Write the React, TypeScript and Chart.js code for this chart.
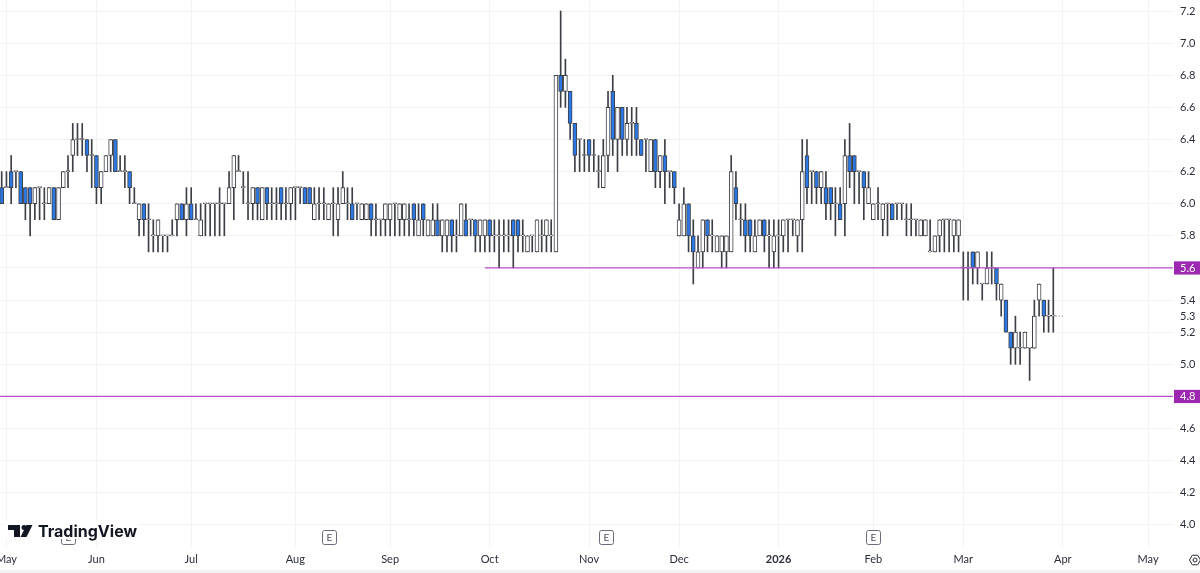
import { useEffect, useRef } from "react"
import { Chart, registerables } from "chart.js"

Chart.register(...registerables)

// daily bars (prices move in 0.1 steps)
const opens = [
  6.1,6.1,6.2,6.2,6.2,6.1,6.1,6.0,6.1,6.0,
  6.0,6.1,5.9,6.1,6.2,6.3,6.4,6.4,6.4,6.3,
  6.3,6.1,6.2,6.3,6.4,6.2,6.2,6.2,6.0,5.9,
  6.0,5.9,5.8,5.8,5.8,5.8,5.8,5.9,6.0,5.9,
  6.0,5.9,5.8,6.0,6.0,6.0,6.0,6.0,6.0,6.1,
  6.2,6.1,6.0,6.0,6.1,5.9,6.1,6.0,6.0,6.1,
  6.0,6.0,6.1,6.1,6.1,6.1,5.9,6.0,6.0,5.9,
  6.0,5.9,6.0,6.0,6.0,6.0,5.9,5.9,6.0,5.9,
  5.9,5.9,5.9,6.0,5.9,5.9,5.9,6.0,5.8,6.0,
  5.8,5.8,5.9,5.8,5.8,5.9,5.8,5.8,5.9,5.9,
  5.9,5.8,5.8,5.9,5.8,5.8,5.8,5.8,5.9,5.9,
  5.8,5.7,5.8,5.7,5.8,5.8,5.8,5.7,6.8,6.7,
  6.7,6.5,6.4,6.3,6.4,6.3,6.2,6.1,6.3,6.7,
  6.4,6.6,6.4,6.5,6.5,6.4,6.4,6.2,6.4,6.2,
  6.3,6.2,6.2,5.8,5.8,6.0,5.8,5.6,5.7,5.9,
  5.8,5.7,5.7,5.7,5.7,6.1,5.9,5.9,5.9,5.7,
  5.8,5.9,5.8,5.7,5.8,5.8,5.9,5.9,5.8,5.9,
  6.3,6.2,6.2,6.1,6.1,6.1,6.0,6.0,6.0,6.3,
  6.3,6.2,6.2,6.0,5.9,6.0,5.9,6.0,6.0,6.0,
  6.0,5.9,5.9,5.9,5.8,5.8,5.7,5.7,5.8,5.9,
  5.9,5.8,5.8,5.6,5.6,5.7,5.6,5.5,5.5,5.6,
  5.6,5.4,5.4,5.2,5.1,5.1,5.1,5.1,5.1,5.4,
  5.4,5.3,5.3,
]
const highs = [
  6.2,6.2,6.3,6.2,6.2,6.1,6.1,6.1,6.1,6.1,
  6.1,6.1,6.1,6.2,6.3,6.5,6.5,6.5,6.4,6.4,
  6.3,6.2,6.3,6.4,6.4,6.3,6.3,6.2,6.1,6.0,
  6.0,6.0,5.9,5.9,5.8,5.8,5.9,6.0,6.0,6.1,
  6.1,6.0,6.0,6.0,6.0,6.0,6.1,6.0,6.2,6.3,
  6.3,6.2,6.2,6.1,6.1,6.1,6.1,6.1,6.1,6.1,
  6.1,6.1,6.1,6.1,6.1,6.1,6.1,6.1,6.1,6.0,
  6.1,6.1,6.2,6.1,6.1,6.0,6.0,6.0,6.0,6.0,
  5.9,6.0,6.0,6.0,6.0,6.0,6.0,6.0,6.0,6.0,
  5.9,6.0,6.0,5.9,5.9,5.9,5.9,6.0,6.0,5.9,
  5.9,5.9,5.9,5.9,5.9,5.9,5.9,5.9,5.9,5.9,
  5.9,5.8,5.8,5.9,5.9,5.9,5.9,6.8,7.2,6.9,
  6.7,6.5,6.4,6.4,6.4,6.4,6.3,6.4,6.7,6.8,
  6.6,6.6,6.6,6.6,6.6,6.4,6.4,6.4,6.4,6.3,
  6.4,6.2,6.2,6.0,6.1,6.0,5.9,5.8,5.9,5.9,
  5.9,5.8,5.8,5.8,6.3,6.2,6.0,6.0,5.9,5.9,
  5.9,5.9,5.9,5.9,5.9,5.9,5.9,5.9,5.9,6.4,
  6.4,6.2,6.2,6.2,6.2,6.1,6.1,6.1,6.4,6.5,
  6.3,6.2,6.2,6.2,6.0,6.1,6.0,6.0,6.0,6.0,
  6.0,6.0,6.0,5.9,5.9,5.9,5.9,5.8,5.9,5.9,
  5.9,5.9,5.9,5.7,5.7,5.7,5.7,5.5,5.7,5.7,
  5.6,5.5,5.4,5.2,5.3,5.2,5.2,5.1,5.4,5.5,
  5.4,5.4,5.6,
]
const lows = [
  6.0,6.1,6.0,6.1,6.0,5.9,5.8,5.9,5.9,5.9,
  6.0,5.9,5.9,6.1,6.1,6.2,6.3,6.3,6.2,6.1,
  6.0,6.0,6.2,6.2,6.2,6.2,6.1,6.0,6.0,5.8,
  5.8,5.7,5.7,5.7,5.7,5.7,5.8,5.8,5.9,5.8,
  5.9,5.9,5.8,5.8,5.8,5.8,5.8,5.8,6.0,5.9,
  6.2,6.0,5.9,5.9,5.9,5.9,5.9,5.9,5.9,5.9,
  5.9,5.9,5.9,6.0,6.0,6.0,5.9,5.9,5.9,5.9,
  5.8,5.8,6.0,5.9,5.9,5.9,5.9,5.9,5.8,5.8,
  5.8,5.8,5.8,5.8,5.8,5.8,5.8,5.8,5.8,5.8,
  5.8,5.8,5.8,5.7,5.7,5.7,5.7,5.8,5.8,5.8,
  5.7,5.7,5.7,5.7,5.7,5.6,5.7,5.7,5.6,5.7,
  5.7,5.7,5.7,5.7,5.7,5.7,5.7,5.7,6.6,6.6,
  6.4,6.2,6.2,6.2,6.2,6.2,6.1,6.1,6.2,6.3,
  6.2,6.3,6.3,6.3,6.3,6.3,6.2,6.2,6.1,6.1,
  6.0,6.1,6.0,5.8,5.8,5.7,5.5,5.6,5.6,5.7,
  5.7,5.7,5.6,5.6,5.7,5.9,5.8,5.7,5.7,5.7,
  5.8,5.7,5.6,5.6,5.6,5.7,5.7,5.8,5.7,5.7,
  6.0,6.0,6.0,6.0,5.9,5.9,5.8,5.9,5.8,6.1,
  6.0,6.0,5.9,6.0,5.9,5.9,5.8,5.8,5.9,5.9,
  5.9,5.8,5.8,5.8,5.8,5.8,5.7,5.7,5.7,5.7,
  5.7,5.7,5.7,5.4,5.4,5.5,5.5,5.4,5.5,5.5,
  5.4,5.3,5.2,5.0,5.0,5.0,5.1,4.9,5.1,5.3,
  5.2,5.2,5.2,
]
const closes = [
  6.0,6.1,6.1,6.2,6.0,6.0,6.0,6.1,6.1,6.0,
  6.1,5.9,6.1,6.2,6.2,6.4,6.4,6.4,6.3,6.3,
  6.1,6.2,6.3,6.4,6.2,6.2,6.2,6.1,6.0,6.0,
  5.9,5.9,5.8,5.9,5.8,5.8,5.8,6.0,5.9,6.0,
  5.9,5.9,5.9,6.0,6.0,6.0,6.0,6.0,6.1,6.3,
  6.2,6.1,6.0,6.1,6.0,6.1,6.0,6.0,6.0,6.0,
  6.0,6.1,6.1,6.1,6.0,6.0,6.0,6.0,6.0,6.0,
  6.0,6.0,6.1,6.0,5.9,6.0,6.0,6.0,5.9,5.9,
  5.9,6.0,6.0,6.0,6.0,6.0,5.9,5.9,5.9,5.9,
  5.9,5.9,5.8,5.9,5.9,5.8,5.8,6.0,5.8,5.9,
  5.8,5.9,5.9,5.8,5.8,5.8,5.8,5.8,5.8,5.8,
  5.8,5.8,5.8,5.9,5.8,5.9,5.8,6.8,6.7,6.8,
  6.5,6.3,6.4,6.3,6.3,6.3,6.2,6.3,6.6,6.4,
  6.6,6.4,6.5,6.5,6.4,6.3,6.4,6.4,6.2,6.3,
  6.2,6.2,6.1,5.9,6.0,5.8,5.7,5.7,5.9,5.8,
  5.8,5.8,5.8,5.8,6.2,6.0,5.9,5.8,5.8,5.8,
  5.9,5.8,5.8,5.8,5.8,5.9,5.9,5.9,5.9,6.2,
  6.1,6.2,6.1,6.2,6.0,6.0,6.0,5.9,6.3,6.2,
  6.2,6.2,6.1,6.1,6.0,6.0,6.0,6.0,5.9,6.0,
  6.0,5.9,5.9,5.9,5.9,5.9,5.7,5.8,5.9,5.9,
  5.9,5.9,5.9,5.6,5.6,5.6,5.7,5.5,5.6,5.6,
  5.5,5.5,5.2,5.1,5.2,5.1,5.2,5.1,5.3,5.5,
  5.3,5.3,5.3,
]

const barIndexes = opens.map((_, i) => i)

// month boundaries as bar numbers on the time axis
const monthBars = [1, 20, 40, 62, 82, 103, 124, 143, 164, 184, 203, 224, 242]
const monthLabels = ["May", "Jun", "Jul", "Aug", "Sep", "Oct", "Nov", "Dec", "2026", "Feb", "Mar", "Apr", "May"]
const yearBar = 164

const priceTicks = [7.2, 7.0, 6.8, 6.6, 6.4, 6.2, 6.0, 5.8, 5.6, 5.4, 5.3, 5.2, 5.0, 4.8, 4.6, 4.4, 4.2, 4.0]
const lastPrice = 5.3
const levelPrices = [5.6, 4.8]
const levelStartBars = [102, -1]
const earningsBars = [14, 69, 127.6, 184]

const GRID = "#f3f3f4"
const TEXT = "#131722"
const CANDLE_LINE = "#3d3f47"
const AXIS_TEXT = "#2a2e39"
const LEVEL = "#b84fcb"
const LEVEL_BOX = "#9c27b0"

const overlay = {
  id: "overlay",
  afterDraw(chart: Chart) {
    const { ctx } = chart
    const x = chart.scales.x
    ctx.save()
    // earnings markers
    earningsBars.forEach((bar) => {
      const cx = Math.round(x.getPixelForValue(bar)) + 0.5
      ctx.beginPath()
      ctx.roundRect(cx - 7, 530.5, 14, 14, 2)
      ctx.fillStyle = "#fff"
      ctx.fill()
      ctx.strokeStyle = "#6a6d78"
      ctx.lineWidth = 1
      ctx.stroke()
      ctx.fillStyle = "#50535e"
      ctx.font = "10px Lato"
      ctx.textAlign = "center"
      ctx.textBaseline = "middle"
      ctx.fillText("E", cx, 538)
    })
    // watermark
    ctx.fillStyle = "#fff"
    ctx.fillRect(4, 522, 134, 17)
    ctx.fillStyle = TEXT
    ctx.beginPath()
    ctx.moveTo(8, 525)
    ctx.lineTo(20, 525)
    ctx.lineTo(20, 537)
    ctx.lineTo(14, 537)
    ctx.lineTo(14, 530)
    ctx.lineTo(8, 530)
    ctx.closePath()
    ctx.fill()
    ctx.beginPath()
    ctx.arc(24, 527.5, 2.5, 0, Math.PI * 2)
    ctx.fill()
    ctx.beginPath()
    ctx.moveTo(32.5, 525)
    ctx.lineTo(26.5, 537)
    ctx.lineTo(20.5, 537)
    ctx.lineTo(26.5, 525)
    ctx.closePath()
    ctx.fill()
    ctx.font = "700 16px Inter"
    ctx.textAlign = "left"
    ctx.textBaseline = "alphabetic"
    ctx.fillText("TradingView", 38, 537)
    // settings icon in the corner
    ctx.strokeStyle = "#2a2e39"
    ctx.lineWidth = 1
    ctx.beginPath()
    for (let k = 0; k < 6; k++) {
      const a = (Math.PI / 3) * k
      ctx.lineTo(1195 + 5.5 * Math.cos(a), 560 + 5.5 * Math.sin(a))
    }
    ctx.closePath()
    ctx.stroke()
    ctx.beginPath()
    ctx.arc(1195, 560, 2, 0, Math.PI * 2)
    ctx.stroke()
    // bottom edge of the widget
    ctx.fillStyle = "#f3f3f4"
    ctx.fillRect(0, 570, 1200, 3)
    ctx.restore()
  },
}

export default function App() {
  const chartRef = useRef<HTMLCanvasElement>(null)
  const chartInstance = useRef<Chart | null>(null)

  useEffect(() => {
    if (!chartRef.current) return

    const ctx = chartRef.current.getContext("2d")
    if (!ctx) return

    const levelSets = levelPrices.map((price, k) => ({
      type: "line" as const,
      data: [
        { x: levelStartBars[k], y: price },
        { x: 260, y: price },
      ],
      borderColor: LEVEL,
      borderWidth: 1.2,
      pointRadius: 0,
      order: 0,
    }))

    chartInstance.current = new Chart(ctx, {
      type: "bar",
      data: {
        datasets: [
          ...levelSets,
          {
            type: "line" as const,
            data: [
              { x: 220, y: lastPrice },
              { x: 224, y: lastPrice },
            ],
            borderColor: "#787b86",
            borderWidth: 1,
            borderDash: [1, 2],
            pointRadius: 0,
            order: 1,
          },
          {
            // bodies
            data: barIndexes.map((i) => ({ x: i, y: [opens[i], closes[i]] })),
            backgroundColor: barIndexes.map((i) => (closes[i] < opens[i] ? "#2b78e4" : "#ffffff")),
            borderColor: CANDLE_LINE,
            borderWidth: 1,
            borderSkipped: false,
            barThickness: 4,
            minBarLength: 1,
            grouped: false,
            order: 2,
          },
          {
            // wicks
            data: barIndexes.map((i) => ({ x: i, y: [lows[i], highs[i]] })),
            backgroundColor: CANDLE_LINE,
            borderWidth: 0,
            barThickness: 1,
            grouped: false,
            order: 3,
          },
        ],
      } as any,
      options: {
        responsive: false,
        animation: false,
        layout: { padding: 0 },
        plugins: {
          legend: { display: false },
          title: { display: false },
          tooltip: { enabled: false },
        },
        scales: {
          x: {
            type: "linear",
            offset: false,
            min: -0.359,
            max: 247.27,
            grid: { color: GRID, drawTicks: false, offset: false },
            border: { display: false },
            afterBuildTicks: (scale: any) => {
              scale.ticks = monthBars.map((value) => ({ value }))
            },
            afterFit: (scale: any) => {
              scale.height = 25
              scale.paddingLeft = 0
              scale.paddingRight = 0
            },
            ticks: {
              autoSkip: false,
              maxRotation: 0,
              padding: 5,
              color: AXIS_TEXT,
              font: (c: any) => ({
                family: "Lato",
                size: 11,
                weight: c.tick?.value === yearBar ? "bold" : "normal",
              }),
              callback: (value: any) => monthLabels[monthBars.indexOf(value)],
            },
          },
          y: {
            type: "linear",
            position: "right",
            min: 3.8563,
            max: 7.2685,
            grid: {
              color: (c: any) => (c.tick?.value === lastPrice ? "rgba(0,0,0,0)" : GRID),
              drawTicks: false,
            },
            border: { display: false },
            afterBuildTicks: (scale: any) => {
              scale.ticks = priceTicks.map((value) => ({ value }))
            },
            afterFit: (scale: any) => {
              scale.width = 27
              scale.paddingTop = 0
              scale.paddingBottom = 0
            },
            ticks: {
              autoSkip: false,
              padding: 7,
              align: "center",
              crossAlign: "near",
              color: (c: any) => (levelPrices.includes(c.tick?.value) ? "#ffffff" : AXIS_TEXT),
              showLabelBackdrop: (c: any) => levelPrices.includes(c.tick?.value),
              backdropColor: LEVEL_BOX,
              backdropPadding: { x: 6, y: 0 },
              font: { family: "Lato", size: 11, weight: "normal" },
              callback: (value: any) => Number(value).toFixed(1),
            },
          },
        },
      },
      plugins: [overlay],
    } as any)

    return () => {
      if (chartInstance.current) {
        chartInstance.current.destroy()
      }
    }
  }, [])

  return (
    <div style={{ position: "absolute", left: 0, top: 0, width: 1200, height: 573, background: "#fff" }}>
      <canvas ref={chartRef} width={1200} height={573} style={{ display: "block" }} />
    </div>
  )
}
